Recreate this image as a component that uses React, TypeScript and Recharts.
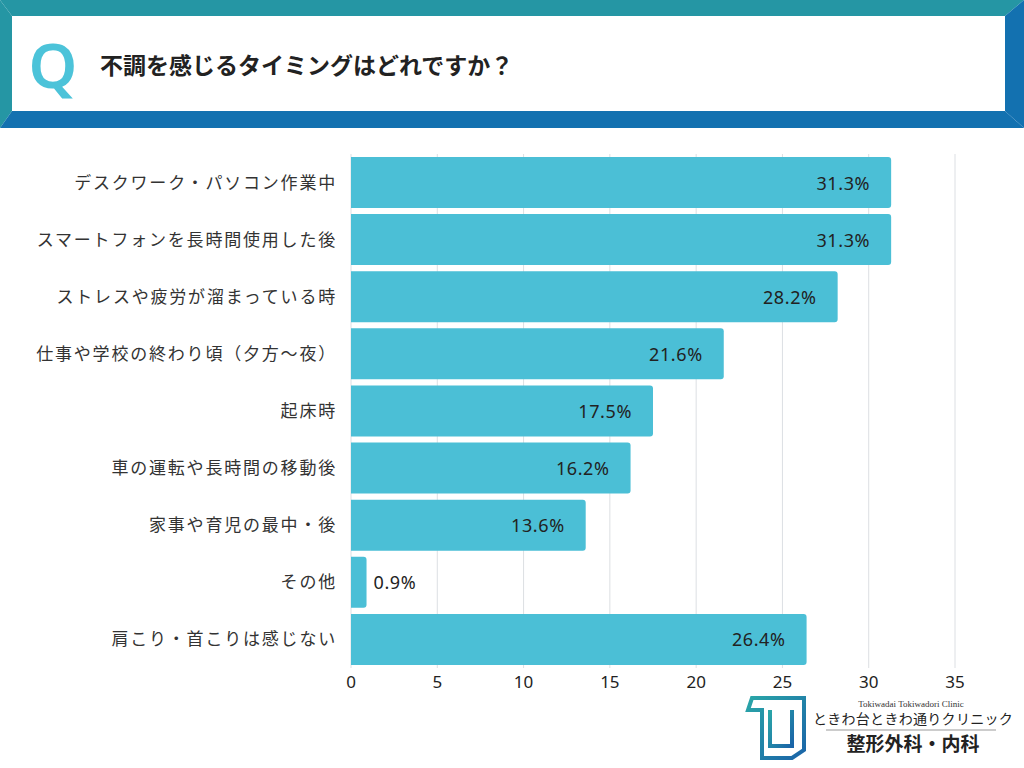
import React from "react";
import { BarChart, Bar, XAxis, YAxis, CartesianGrid, LabelList } from "recharts";

const categories = [
  "デスクワーク・パソコン作業中",
  "スマートフォンを長時間使用した後",
  "ストレスや疲労が溜まっている時",
  "仕事や学校の終わり頃（夕方〜夜）",
  "起床時",
  "車の運転や長時間の移動後",
  "家事や育児の最中・後",
  "その他",
  "肩こり・首こりは感じない",
];
const values = [31.3, 31.3, 28.2, 21.6, 17.5, 16.2, 13.6, 0.9, 26.4];
const xTicks = [0, 5, 10, 15, 20, 25, 30, 35];

const data = categories.map((name, i) => ({ name, value: values[i] }));

const FONT = "'Noto Sans CJK JP', 'Noto Sans', sans-serif";
const NUMFONT = "'Noto Sans', 'Noto Sans CJK JP', sans-serif";
const BAR = "#4bbfd6";

const ValueLabel = (props: any) => {
  const { x, y, width, height, value } = props;
  const inside = value > 5;
  const tx = inside ? x + width - 21 : x + width + 7;
  return (
    <text
      x={tx}
      y={y + height / 2}
      textAnchor={inside ? "end" : "start"}
      dominantBaseline="central"
      fill="#222"
      fontSize={18}
      letterSpacing={0.6}
      fontFamily={NUMFONT}
    >
      {value.toFixed(1)}%
    </text>
  );
};

const Header = () => (
  <svg width={1024} height={130} style={{ position: "absolute", left: 0, top: 0 }}>
    <polygon points="0,0 1024,0 1005,16 12,16" fill="#2596a4" />
    <polygon points="0,0 12,16 12,111 0,128" fill="#2596a4" />
    <polygon points="1024,0 1024,128 1005,111 1005,16" fill="#1371b0" />
    <polygon points="0,128 1024,128 1005,111 12,111" fill="#1371b0" />
    <rect x={12} y={16} width={993} height={95} fill="#ffffff" />
    <text x={53} y={88} textAnchor="middle" fontSize={62} fontWeight={600} fill="#4cc3d9" fontFamily="'Noto Sans', sans-serif">
      Q
    </text>
    <text x={100} y={74} fontSize={23} fontWeight={700} fill="#222" fontFamily={FONT}>
      不調を感じるタイミングはどれですか？
    </text>
  </svg>
);

const Logo = () => (
  <svg width={280} height={72} style={{ position: "absolute", left: 744, top: 694 }}>
    <defs>
      <linearGradient id="lg" x1="0" y1="0" x2="1" y2="1">
        <stop offset="0" stopColor="#2aa6a8" />
        <stop offset="1" stopColor="#1a64a8" />
      </linearGradient>
    </defs>
    <path d="M8 4 L60 4 L60 56 L48 64 L18 64 L18 16 L4 16 Z" fill="none" stroke="url(#lg)" strokeWidth={4} />
    <path d="M26 16 L26 52 L48 52 L48 16" fill="none" stroke="url(#lg)" strokeWidth={4} />
    <text x={167} y={13} textAnchor="middle" fontSize={9} fill="#333" fontFamily="'Liberation Serif', serif">
      Tokiwadai Tokiwadori Clinic
    </text>
    <text x={169} y={30} textAnchor="middle" fontSize={14} letterSpacing={0.3} fill="#222" fontFamily="'Noto Sans CJK JP', serif">
      ときわ台ときわ通りクリニック
    </text>
    <line x1={82} y1={36} x2={252} y2={36} stroke="#999" strokeWidth={1} />
    <text x={169} y={57} textAnchor="middle" fontSize={19} fontWeight={700} fill="#222" fontFamily="'Noto Sans CJK JP', serif">
      整形外科・内科
    </text>
  </svg>
);

export default function App() {
  return (
    <div style={{ position: "absolute", left: 0, top: 0, width: 1024, height: 768, background: "#fff", overflow: "hidden" }}>
      <Header />
      <div style={{ position: "absolute", left: 0, top: 0 }}>
        <BarChart
          width={1024}
          height={768}
          data={data}
          layout="vertical"
          margin={{ top: 154, right: 69, bottom: 70, left: 0 }}
          barCategoryGap={3}
        >
          <CartesianGrid horizontal={false} stroke="#dcdfe3" />
          <XAxis
            type="number"
            domain={[0, 35]}
            ticks={xTicks}
            axisLine={false}
            tickLine={false}
            height={30}
            tick={{ fontSize: 17, fill: "#222", fontFamily: NUMFONT }}
          />
          <YAxis
            type="category"
            dataKey="name"
            width={351}
            axisLine={false}
            tickLine={false}
            tickMargin={8}
            tick={{ fontSize: 17, fill: "#333", fontFamily: FONT, letterSpacing: 1.8 }}
          />
          <Bar dataKey="value" fill={BAR} barSize={51} radius={[0, 3, 3, 0]} isAnimationActive={false}>
            <LabelList dataKey="value" content={ValueLabel} />
          </Bar>
        </BarChart>
      </div>
      <Logo />
    </div>
  );
}
